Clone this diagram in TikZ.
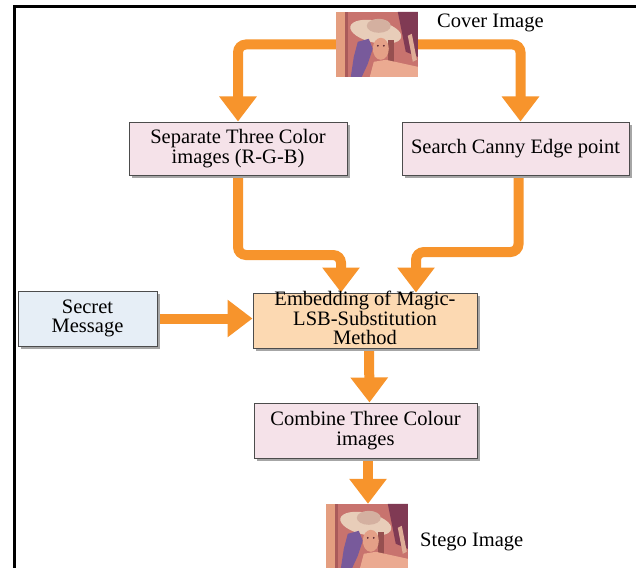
\documentclass[tikz,border=0pt]{standalone}
\usepackage{fontspec}
\setmainfont{Liberation Serif}
\usetikzlibrary{arrows.meta,shadows,calc}
\pgfdeclarelayer{back}
\pgfdeclarelayer{bg}
\pgfsetlayers{back,bg,main}
\definecolor{flowc}{RGB}{247,148,44}
\definecolor{pinkbox}{RGB}{245,226,233}
\definecolor{peachbox}{RGB}{252,217,178}
\definecolor{bluebox}{RGB}{230,238,246}
\definecolor{lnbase}{RGB}{200,115,110}
\definecolor{lnleft}{RGB}{228,158,128}
\definecolor{lnline}{RGB}{170,90,90}
\definecolor{lndark}{RGB}{128,58,84}
\definecolor{lnstreak}{RGB}{222,172,150}
\definecolor{lnhat}{RGB}{232,205,185}
\definecolor{lncrown}{RGB}{212,176,160}
\definecolor{lnfeather}{RGB}{120,90,155}
\definecolor{lnface}{RGB}{228,160,135}
\definecolor{lnhair}{RGB}{150,80,80}
\definecolor{lnskin}{RGB}{235,170,145}
\definecolor{lneye}{RGB}{90,40,50}
\newcommand{\lenapic}[1]{%
  \begin{scope}[shift={(#1.north west)}]
    \clip (0,0) rectangle (82,65);
    \fill[lnbase] (0,0) rectangle (82,65);
    \fill[lnleft] (0,0) rectangle (9,65);
    \fill[lnline] (9,0) rectangle (12,65);
    \fill[lndark] (62,0) -- (82,0) -- (82,45) -- (70,40) -- (66,20) -- cycle;
    \fill[lnstreak] (72,24) -- (76,22) -- (81,48) -- (77,50) -- cycle;
    \fill[lnhat, rotate around={-12:(40,20)}] (40,20) ellipse [x radius=26, y radius=11];
    \fill[lncrown] (43,14) ellipse [x radius=12, y radius=7];
    \fill[lnfeather] (22,30) -- (33,27) -- (37,37) -- (32,52) -- (26,65) -- (15,65) -- (18,45) -- cycle;
    \fill[lnhair] (52,28) rectangle (58,50);
    \fill[lnface] (45,37) ellipse [x radius=8, y radius=11];
    \fill[lnskin] (38,50) -- (50,48) -- (82,55) -- (82,65) -- (34,65) -- cycle;
    \fill[lneye] (42,34) circle [radius=1];
    \fill[lneye] (48,34) circle [radius=1];
  \end{scope}}
\begin{document}
\begin{tikzpicture}[x=1pt,y=-1pt,
  boxfont/.style={font=\fontsize{20.5}{19.5}\selectfont},
  box/.style={boxfont, draw=black!70, line width=1pt, inner sep=0pt, align=center,
    drop shadow={shadow xshift=3pt,shadow yshift=-3pt,fill=black!35,opacity=1}},
  imgbox/.style={inner sep=0pt, minimum width=82pt, minimum height=65pt},
  flowarrow/.style={draw=flowc, line width=10pt, line cap=round, rounded corners=8pt,
    -{Triangle[width=36pt,length=25pt]}, color=flowc},
  caption/.style={boxfont, inner sep=0pt, anchor=base west}]
  \useasboundingbox (0,0) rectangle (636,567);
  \begin{pgfonlayer}{back}
    \fill[white] (0,0) rectangle (636,567);
  \end{pgfonlayer}
  \draw[line width=3pt, black] (14,570) -- (14,7) -- (640,7);

  \node[imgbox] (cover) at (377,44.5) {};
  \lenapic{cover}
  \node[caption] (covertxt) at (437,28) {Cover Image};

  \node[box, fill=pinkbox, minimum width=218pt, minimum height=53pt] (sep) at (238,148.5)
    {Separate Three Color\\images (R-G-B)};
  \node[box, fill=pinkbox, minimum width=227pt, minimum height=53pt] (canny) at (515.5,148.5)
    {Search Canny Edge point};
  \node[box, fill=bluebox, minimum width=139pt, minimum height=55pt] (secret) at (87.5,318.5)
    {Secret\\Message};
  \node[box, fill=peachbox, minimum width=224pt, minimum height=55pt] (embed) at (365,320.5) {};
  \node[boxfont, inner sep=0pt, align=center] (embedtxt) at (365,318)
    {Embedding of Magic-\\LSB-Substitution\\Method};
  \node[box, fill=pinkbox, minimum width=223pt, minimum height=55pt] (combine) at (365.5,430.5)
    {Combine Three Colour\\images};

  \node[imgbox, minimum width=84pt] (stego) at (368,536.5) {};
  \begin{scope}[shift={(1,0)}]\lenapic{stego}\end{scope}
  \node[caption] (stegotxt) at (420,546) {Stego Image};

  \coordinate (j1) at (341,255);
  \coordinate (j2) at (416,252);
  \begin{pgfonlayer}{bg}
    \draw[flowarrow] (cover.west) -| (sep.north);
    \draw[flowarrow] (cover.east) -| ([xshift=5pt]canny.north);
    \draw[flowarrow] (sep.south) |- (j1) -- (j1 |- embed.north);
    \draw[flowarrow] ([xshift=3pt]canny.south) |- (j2) -- (j2 |- embed.north);
    \draw[flowarrow] (secret.east) -- (secret.east -| embed.west);
    \draw[flowarrow] ([xshift=4pt]embed.south) -- ([xshift=4pt]combine.north);
    \draw[flowarrow] (stego.north |- combine.south) -- (stego.north);
  \end{pgfonlayer}
\end{tikzpicture}
\end{document}
